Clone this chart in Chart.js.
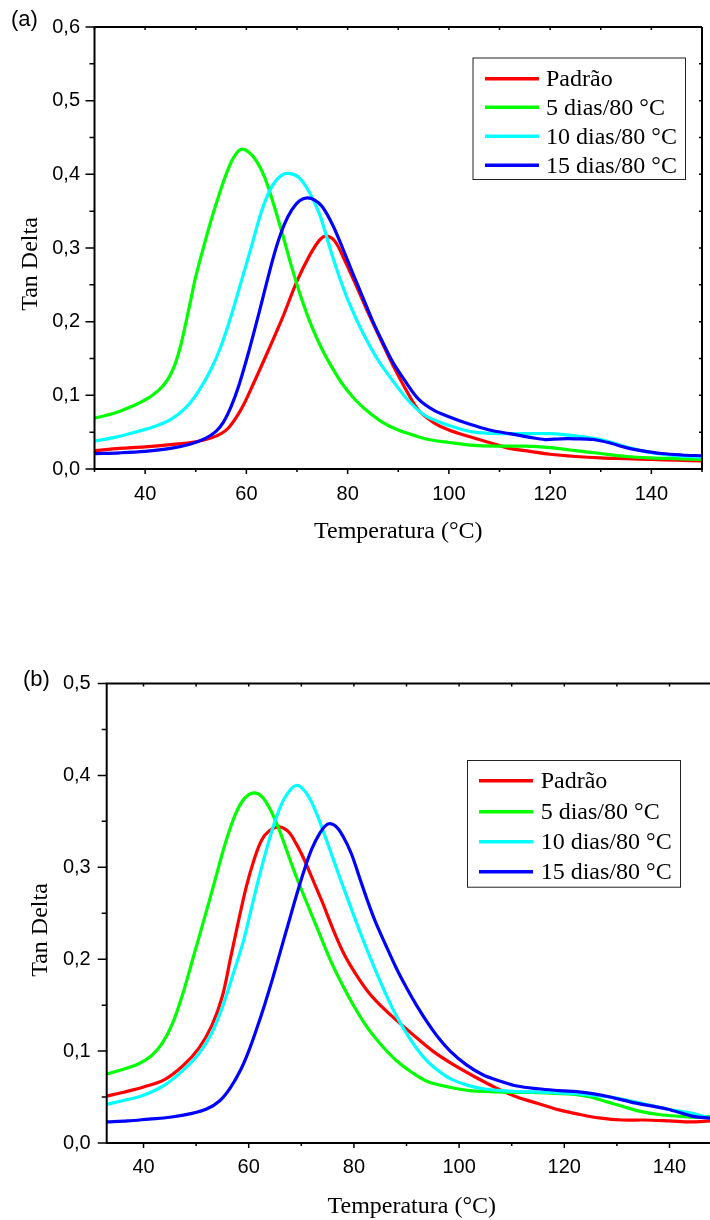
<!DOCTYPE html>
<html>
<head>
<meta charset="utf-8">
<script src="https://cdn.jsdelivr.net/npm/chart.js@4/dist/chart.umd.min.js"></script>
<style>
  html, body { margin: 0; padding: 0; background: #fff; }
  body { width: 710px; height: 1220px; position: relative; overflow: hidden; }
  canvas { position: absolute; left: 0; }
</style>
</head>
<body>
<canvas id="chartA" width="710" height="560" style="top:0px"></canvas>
<canvas id="chartB" width="710" height="620" style="top:600px"></canvas>
<script>
// ---------------- DATA ----------------
const seriesLabels = ['Padrão', '5 dias/80 °C', '10 dias/80 °C', '15 dias/80 °C'];
const xTitle = 'Temperatura (°C)';
const yTitle = 'Tan Delta';
const panelA = '(a)';
const panelB = '(b)';

// Panel (a)
const a_padrao_T   = [30, 35, 40, 45, 50, 53, 55, 56.5, 58, 59.5, 61, 63.5, 67, 70, 72.5, 74.5, 75.8, 77.5, 79.5, 81.5, 84, 86.5, 89, 91.5, 94, 97, 100, 104, 108, 112, 116, 120, 125, 130, 135, 140, 145, 150];
const a_padrao_tan = [0.025, 0.028, 0.030, 0.033, 0.037, 0.042, 0.048, 0.056, 0.070, 0.088, 0.110, 0.148, 0.203, 0.255, 0.290, 0.311, 0.316, 0.309, 0.282, 0.252, 0.213, 0.176, 0.140, 0.108, 0.080, 0.063, 0.053, 0.044, 0.036, 0.028, 0.024, 0.020, 0.017, 0.015, 0.014, 0.013, 0.012, 0.011];

const a_d5_T   = [30, 34, 38, 40, 41, 42, 43, 44, 45, 46, 47, 48, 49, 50, 51.5, 53, 54.5, 56, 57.5, 59, 60.5, 62, 63.5, 65, 67, 69, 71, 73, 75, 77, 79, 81.5, 84, 87, 90, 93, 96, 100, 105, 110, 115, 120, 125, 130, 135, 140, 145, 150];
const a_d5_tan = [0.069, 0.076, 0.087, 0.094, 0.098, 0.103, 0.109, 0.117, 0.128, 0.144, 0.167, 0.197, 0.229, 0.261, 0.300, 0.337, 0.370, 0.400, 0.423, 0.434, 0.430, 0.418, 0.398, 0.368, 0.322, 0.273, 0.229, 0.192, 0.162, 0.137, 0.115, 0.094, 0.078, 0.063, 0.053, 0.046, 0.040, 0.036, 0.032, 0.031, 0.031, 0.029, 0.025, 0.021, 0.017, 0.015, 0.014, 0.013];

const a_d10_T   = [30, 34, 38, 42, 45, 48, 50.5, 53, 55, 57, 59, 61, 63, 65, 67, 68.7, 70.5, 72.5, 74.5, 76.5, 78.5, 80.5, 83, 86, 89, 92, 95, 98, 101, 105, 110, 115, 120, 125, 130, 135, 140, 145, 150];
const a_d10_tan = [0.038, 0.043, 0.050, 0.058, 0.067, 0.083, 0.105, 0.135, 0.167, 0.208, 0.255, 0.302, 0.350, 0.383, 0.399, 0.401, 0.395, 0.375, 0.345, 0.300, 0.258, 0.222, 0.185, 0.148, 0.119, 0.093, 0.074, 0.064, 0.057, 0.050, 0.048, 0.048, 0.048, 0.045, 0.040, 0.030, 0.022, 0.018, 0.016];

const a_d15_T   = [30, 35, 40, 45, 49, 52, 54, 55.5, 57, 58.5, 60.5, 62.5, 64.5, 66, 67.5, 69, 70.5, 72, 73.5, 75, 77, 79, 81, 83, 85, 87, 89, 91.5, 94, 97, 100, 104, 108, 112, 116, 119, 122, 125, 128.5, 132, 135, 138, 142, 146, 150];
const a_d15_tan = [0.021, 0.022, 0.024, 0.028, 0.034, 0.042, 0.051, 0.064, 0.085, 0.113, 0.160, 0.212, 0.266, 0.303, 0.332, 0.352, 0.364, 0.368, 0.365, 0.356, 0.332, 0.300, 0.266, 0.233, 0.200, 0.171, 0.144, 0.118, 0.095, 0.080, 0.071, 0.061, 0.053, 0.048, 0.043, 0.040, 0.041, 0.041, 0.040, 0.035, 0.029, 0.025, 0.021, 0.019, 0.018];

// Panel (b)
const b_padrao_T   = [33, 36, 40, 44, 47.5, 50.5, 53, 55, 56.5, 58, 59.5, 61, 62.5, 64, 65.8, 67.5, 69, 70.5, 72, 74, 76, 78, 80, 82.5, 85, 88, 91, 95, 99, 103, 107, 111, 115, 119, 123, 127, 131, 135, 140, 144, 147.7];
const b_padrao_tan = [0.051, 0.055, 0.061, 0.069, 0.084, 0.103, 0.128, 0.160, 0.200, 0.240, 0.278, 0.308, 0.330, 0.340, 0.344, 0.339, 0.326, 0.309, 0.289, 0.262, 0.233, 0.207, 0.187, 0.166, 0.150, 0.134, 0.119, 0.100, 0.085, 0.072, 0.060, 0.050, 0.043, 0.036, 0.031, 0.027, 0.025, 0.025, 0.024, 0.023, 0.024];

const b_d5_T   = [33, 36, 39, 41.5, 43.5, 45.5, 47.5, 49.5, 51.5, 53.5, 55.5, 57.5, 59.2, 61, 62.5, 64, 65.5, 67, 68.5, 70, 72, 74, 76, 78, 80, 82.5, 85, 88, 91, 94, 98, 102, 106, 110, 114, 118, 122, 125, 128, 131, 134, 138, 142, 145, 147.7];
const b_d5_tan = [0.075, 0.080, 0.086, 0.095, 0.108, 0.130, 0.163, 0.203, 0.243, 0.284, 0.325, 0.358, 0.375, 0.381, 0.377, 0.364, 0.345, 0.322, 0.298, 0.276, 0.248, 0.220, 0.193, 0.170, 0.149, 0.126, 0.108, 0.090, 0.077, 0.067, 0.061, 0.057, 0.056, 0.055, 0.055, 0.054, 0.053, 0.050, 0.045, 0.040, 0.035, 0.031, 0.029, 0.028, 0.029];

const b_d10_T   = [33, 36, 40, 44, 47.5, 50.5, 53, 55, 57, 59, 60.5, 62, 63.5, 65, 66.5, 68, 69, 70, 71.5, 73, 74.5, 76, 77.5, 79.3, 81, 83, 85.6, 88, 90.7, 93, 95.1, 98.3, 101.5, 104.6, 108, 111, 117, 123.6, 128.7, 133.1, 139.5, 144.5, 147.7];
const b_d10_tan = [0.042, 0.046, 0.052, 0.063, 0.079, 0.097, 0.120, 0.148, 0.183, 0.220, 0.255, 0.290, 0.322, 0.350, 0.372, 0.385, 0.389, 0.387, 0.376, 0.357, 0.334, 0.310, 0.286, 0.258, 0.232, 0.203, 0.168, 0.139, 0.113, 0.095, 0.083, 0.070, 0.063, 0.059, 0.057, 0.056, 0.055, 0.053, 0.050, 0.045, 0.037, 0.032, 0.027];

const b_d15_T   = [33, 37, 41, 45, 49, 52, 54.5, 56.5, 58.5, 60, 61.5, 63, 64.5, 66, 67.5, 69, 70.5, 72, 73.5, 75, 76.5, 78, 79.5, 81, 82.5, 84, 86, 88, 90, 92, 94, 96, 98.3, 101.4, 104.6, 108, 111, 115, 119, 123.6, 128.7, 133.1, 139.5, 144.5, 147.7];
const b_d15_tan = [0.023, 0.024, 0.026, 0.028, 0.032, 0.037, 0.046, 0.060, 0.080, 0.100, 0.124, 0.150, 0.178, 0.208, 0.238, 0.268, 0.296, 0.320, 0.337, 0.347, 0.345, 0.333, 0.315, 0.290, 0.265, 0.242, 0.216, 0.191, 0.169, 0.149, 0.131, 0.115, 0.100, 0.085, 0.074, 0.067, 0.062, 0.059, 0.057, 0.055, 0.050, 0.044, 0.037, 0.029, 0.027];

// axis ranges
const a_xRange = [30, 150];
const a_yRange = [0, 0.6];
const b_xRange = [33, 147.7];
const b_yRange = [0, 0.5];

// ---------------- STYLE ----------------
const lineColors = ['#ff0000', '#00ff00', '#00ffff', '#0000ff'];
const SANS = '"Liberation Sans", Arial, Helvetica, sans-serif';
const SERIF = '"Liberation Serif", "Times New Roman", Times, serif';

function buildDatasets(Ts, tans) {
  return Ts.map((T, i) => ({
    label: seriesLabels[i],
    data: T.map((t, j) => ({ x: t, y: tans[i][j] })),
    borderColor: lineColors[i],
    backgroundColor: lineColors[i],
    borderWidth: 3.2,
    pointRadius: 0,
    fill: false,
    tension: 0.35,
    order: Ts.length - i
  }));
}

function fmtY(v) {
  const r = Math.round(v * 10);
  if (Math.abs(v * 10 - r) > 1e-6) return '';
  return (r / 10).toFixed(1).replace('.', ',');
}

function decoPlugin(st) {
  return {
    id: 'deco',
    afterDatasetsDraw(chart) {
      const ctx = chart.ctx, a = chart.chartArea;
      const xs = chart.scales.x, ys = chart.scales.y;
      ctx.save();
      ctx.strokeStyle = '#000';
      // tick marks
      ctx.lineWidth = 1.5;
      ctx.beginPath();
      for (let v = Math.ceil(xs.min / 10 - 1e-9) * 10; v <= xs.max + 1e-9; v += 10) {
        const p = xs.getPixelForValue(v);
        const len = (v % 20 === 0) ? st.xMajor : st.xMinor;
        ctx.moveTo(p, a.bottom); ctx.lineTo(p, a.bottom + len);
        ctx.moveTo(p, a.top); ctx.lineTo(p, a.top + st.topTick);
      }
      for (let k = 0; k * 0.05 <= ys.max + 1e-9; k++) {
        const p = ys.getPixelForValue(k * 0.05);
        const len = (k % 2 === 0) ? st.yMajor : st.yMinor;
        ctx.moveTo(a.left, p); ctx.lineTo(a.left - len, p);
        if (st.rightBorder) { ctx.moveTo(a.right, p); ctx.lineTo(a.right - st.topTick, p); }
      }
      ctx.stroke();
      // frame
      ctx.lineWidth = 2;
      ctx.beginPath();
      ctx.moveTo(a.right, a.top);
      ctx.lineTo(a.left, a.top);
      ctx.lineTo(a.left, a.bottom);
      ctx.lineTo(a.right, a.bottom);
      if (st.rightBorder) ctx.lineTo(a.right, a.top);
      ctx.stroke();

      // axis titles
      ctx.fillStyle = '#000';
      ctx.font = '24px ' + SERIF;
      ctx.textAlign = 'center';
      ctx.textBaseline = 'alphabetic';
      ctx.fillText(xTitle, (a.left + a.right) / 2 + st.xTitleDx, st.xTitleBase);
      ctx.save();
      ctx.translate(st.yTitleBase, st.yTitleCy);
      ctx.rotate(-Math.PI / 2);
      ctx.fillText(yTitle, 0, 0);
      ctx.restore();

      // panel label
      ctx.font = '22px ' + SANS;
      ctx.textAlign = 'left';
      ctx.fillText(st.panel, st.panelX, st.panelBase);

      // legend
      const L = st.legend;
      ctx.lineWidth = 1;
      ctx.strokeStyle = '#222';
      ctx.strokeRect(L.x0 + 0.5, L.y0 + 0.5, L.x1 - L.x0, L.y1 - L.y0);
      ctx.font = '24px ' + SERIF;
      chart.data.datasets.forEach((ds, i) => {
        const y = L.rows[i];
        ctx.strokeStyle = ds.borderColor;
        ctx.lineWidth = 3.5;
        ctx.beginPath();
        ctx.moveTo(L.lx0, y); ctx.lineTo(L.lx1, y);
        ctx.stroke();
        ctx.fillStyle = '#000';
        ctx.fillText(ds.label, L.tx, y + 7.5);
      });
      ctx.restore();
    }
  };
}

function makeChart(id, datasets, xRange, yRange, lay, st) {
  return new Chart(document.getElementById(id), {
    type: 'line',
    data: { datasets },
    options: {
      responsive: false,
      animation: false,
      events: [],
      layout: { padding: lay.padding },
      plugins: { legend: { display: false }, tooltip: { enabled: false }, title: { display: false } },
      scales: {
        x: {
          type: 'linear', min: xRange[0], max: xRange[1],
          afterFit: s => { s.height = lay.xAxisH; },
          grid: { display: false, drawTicks: true, tickLength: st.xMajor },
          border: { display: false },
          ticks: {
            stepSize: 10, autoSkip: false, includeBounds: false, maxRotation: 0, minRotation: 0,
            color: '#000', padding: lay.xPad,
            font: { family: SANS, size: 20 },
            callback: v => (Math.abs(v % 20) < 1e-9 ? String(v) : '')
          }
        },
        y: {
          type: 'linear', min: yRange[0], max: yRange[1],
          afterFit: s => { s.width = lay.yAxisW; },
          grid: { display: false, drawTicks: true, tickLength: st.yMajor },
          border: { display: false },
          ticks: {
            stepSize: 0.05, autoSkip: false,
            color: '#000', padding: lay.yPad,
            font: { family: SANS, size: 20 },
            callback: v => fmtY(v)
          }
        }
      }
    },
    plugins: [decoPlugin(st)]
  });
}

makeChart('chartA',
  buildDatasets([a_padrao_T, a_d5_T, a_d10_T, a_d15_T], [a_padrao_tan, a_d5_tan, a_d10_tan, a_d15_tan]),
  a_xRange, a_yRange,
  { padding: { top: 27, right: 1.5, bottom: 0, left: 0 }, xAxisH: 91, yAxisW: 94.5, xPad: 8, yPad: 5.5 },
  { xMajor: 5, xMinor: 3, yMajor: 9, yMinor: 5, topTick: 3, rightBorder: true,
    xTitleDx: 0, xTitleBase: 538, yTitleBase: 36.5, yTitleCy: 264,
    panel: panelA, panelX: 11, panelBase: 26,
    legend: { x0: 472.5, y0: 57.5, x1: 685, y1: 179, rows: [78.7, 107.3, 136.3, 165.3], lx0: 485, lx1: 539, tx: 546 } }
);

makeChart('chartB',
  buildDatasets([b_padrao_T, b_d5_T, b_d10_T, b_d15_T], [b_padrao_tan, b_d5_tan, b_d10_tan, b_d15_tan]),
  b_xRange, b_yRange,
  { padding: { top: 83.5, right: 0, bottom: 0, left: 0 }, xAxisH: 77, yAxisW: 106.7, xPad: 7, yPad: 7 },
  { xMajor: 5, xMinor: 3, yMajor: 9, yMinor: 5, topTick: 3, rightBorder: false,
    xTitleDx: 3.4, xTitleBase: 613, yTitleBase: 46.5, yTitleCy: 330,
    panel: panelB, panelX: 23, panelBase: 86,
    legend: { x0: 467, y0: 160, x1: 680, y1: 286.7, rows: [180.7, 211.7, 241.7, 271.7], lx0: 479, lx1: 533, tx: 540.7 } }
);
</script>
</body>
</html>
